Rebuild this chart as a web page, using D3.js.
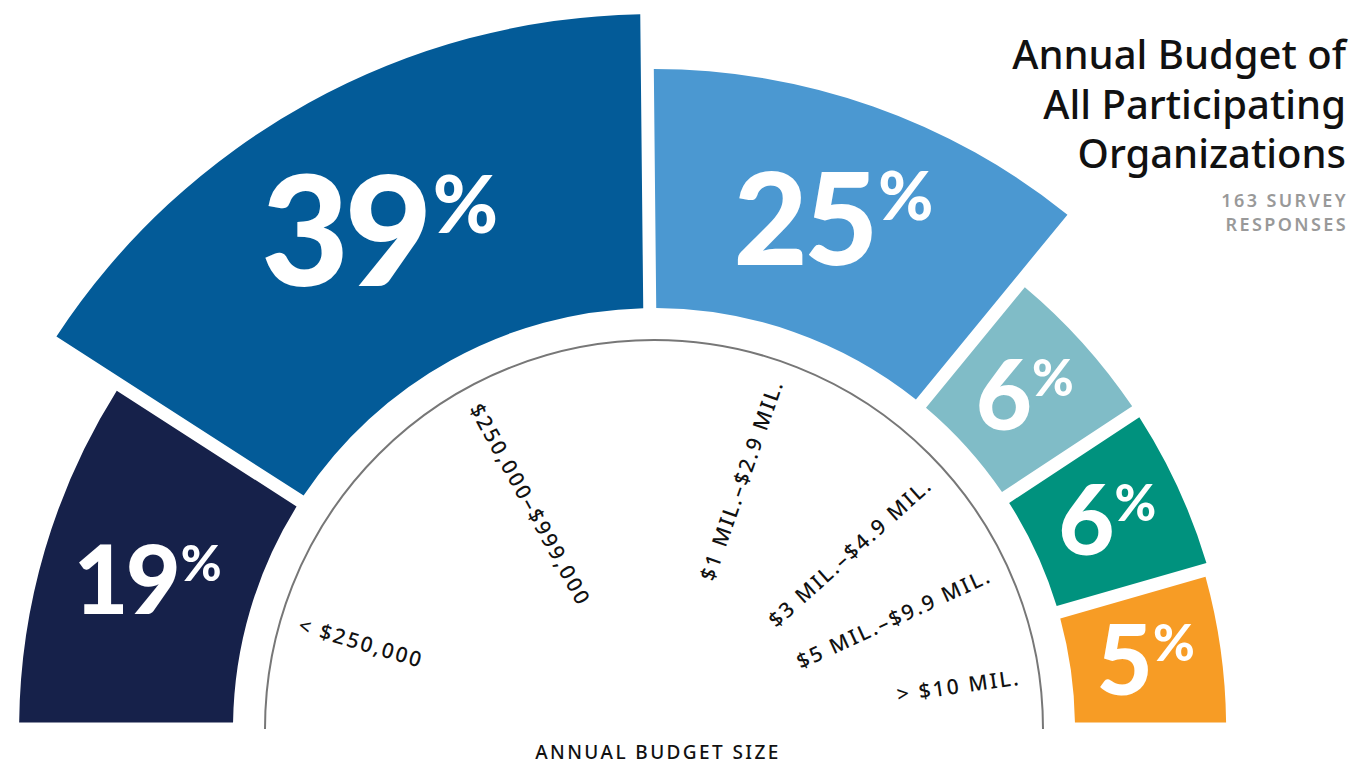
<!DOCTYPE html>
<html>
<head>
<meta charset="utf-8">
<script src="https://cdn.jsdelivr.net/npm/d3@7"></script>
<style>
  body { margin: 0; background: #fff; }
</style>
</head>
<body>
<div id="chart"></div>
<script>
var categories = [
    "< $250,000",
    "$250,000\u2013$999,000",
    "$1 MIL.\u2013$2.9 MIL.",
    "$3 MIL.\u2013$4.9 MIL.",
    "$5 MIL.\u2013$9.9 MIL.",
    "> $10 MIL."
];
var shares = [19, 39, 25, 6, 6, 5];
var titleLines = ["Annual Budget of", "All Participating", "Organizations"];
var subtitleLines = ["163 SURVEY", "RESPONSES"];
var axisTitle = "ANNUAL BUDGET SIZE";

var width = 1351,
    height = 764,
    cx = 654,
    cy = 729,
    innerRadius = 421,
    guideRadius = 389,
    labelRadius = 370;

var rows = shares.map(function (v, i) {
    return { category: categories[i], share: v };
});

var color = d3.scaleOrdinal()
    .domain(categories)
    .range(["#16214a", "#035b98", "#4b98d1", "#80bcc7", "#00927e", "#f79c25"]);

// outer radius grows with the share
var rScale = d3.scaleRadial()
    .domain([0, d3.max(shares)])
    .range([548, 715]);

var fontScale = d3.scaleLinear()
    .domain([6, 19, 25, 39])
    .range([97, 95, 128, 152]);

// small slices get a minimum width, so angle = share + 7
var pie = d3.pie()
    .sort(null)
    .value(function (d) { return d.share + 7; })
    .startAngle(-Math.PI / 2)
    .endAngle(Math.PI / 2)
    .padAngle(13 / 420);

var arc = d3.arc()
    .innerRadius(innerRadius)
    .outerRadius(function (d) { return rScale(d.data.share); })
    .padRadius(420);

var svg = d3.select("#chart")
    .append("svg")
    .attr("width", width)
    .attr("height", height);

var g = svg.append("g")
    .attr("transform", "translate(" + cx + "," + cy + ")");

var slices = g.selectAll(".slice")
    .data(pie(rows))
    .enter().append("g")
    .attr("class", "slice");

slices.append("path")
    .attr("d", arc)
    .attr("fill", function (d) { return color(d.data.category); });

// big percentage labels
var big = slices.append("text")
    .attr("transform", function (d) { return "translate(" + arc.centroid(d) + ")"; })
    .attr("text-anchor", "middle")
    .attr("fill", "#fff")
    .style("font-family", "Lato, 'Noto Sans', sans-serif")
    .style("font-weight", 900);

big.append("tspan")
    .style("font-size", function (d) { return fontScale(d.data.share) + "px"; })
    .style("letter-spacing", function (d) { return (-0.03 * fontScale(d.data.share)) + "px"; })
    .attr("dy", function (d) { return 0.36 * fontScale(d.data.share); })
    .text(function (d) { return d.data.share; });

big.append("tspan")
    .style("font-size", function (d) { return 0.52 * fontScale(d.data.share) + "px"; })
    .attr("dx", function (d) { return 0.03 * fontScale(d.data.share); })
    .attr("dy", function (d) { return -0.35 * fontScale(d.data.share); })
    .text("%");

// grey guide arc
var guide = d3.path();
guide.arc(0, 0, guideRadius, Math.PI, 2 * Math.PI);
g.append("path")
    .attr("d", guide.toString())
    .attr("fill", "none")
    .attr("stroke", "#777")
    .attr("stroke-width", 2);

// category labels along the radius
g.selectAll(".cat")
    .data(pie(rows))
    .enter().append("text")
    .attr("class", "cat")
    .attr("transform", function (d) {
        var a = (d.startAngle + d.endAngle) / 2,
            deg = a * 180 / Math.PI,
            x = labelRadius * Math.sin(a),
            y = -labelRadius * Math.cos(a),
            rot = a < 0 ? deg + 90 : deg - 90;
        return "translate(" + x + "," + y + ") rotate(" + rot + ")";
    })
    .attr("text-anchor", function (d) {
        return (d.startAngle + d.endAngle) / 2 < 0 ? "start" : "end";
    })
    .attr("dy", "0.35em")
    .attr("fill", "#111")
    .style("font-family", "'Noto Sans', sans-serif")
    .style("font-size", "21px")
    .style("font-weight", 500)
    .style("letter-spacing", "2.2px")
    .text(function (d) { return d.data.category; });

// axis title
svg.append("text")
    .attr("x", 658)
    .attr("y", 759)
    .attr("text-anchor", "middle")
    .attr("fill", "#111")
    .style("font-family", "'Noto Sans', sans-serif")
    .style("font-size", "19px")
    .style("font-weight", 500)
    .style("letter-spacing", "2.4px")
    .text(axisTitle);

// title
svg.append("g").selectAll("text")
    .data(titleLines)
    .enter().append("text")
    .attr("x", 1346)
    .attr("y", function (d, i) { return 69 + i * 49.5; })
    .attr("text-anchor", "end")
    .attr("fill", "#111")
    .style("font-family", "'Noto Sans', sans-serif")
    .style("font-size", "40px")
    .style("font-weight", 500)
    .text(function (d) { return d; });

svg.append("g").selectAll("text")
    .data(subtitleLines)
    .enter().append("text")
    .attr("x", 1348)
    .attr("y", function (d, i) { return 207 + i * 24; })
    .attr("text-anchor", "end")
    .attr("fill", "#999")
    .style("font-family", "'Noto Sans', sans-serif")
    .style("font-size", "18px")
    .style("font-weight", 600)
    .style("letter-spacing", "2.4px")
    .text(function (d) { return d; });
</script>
</body>
</html>
